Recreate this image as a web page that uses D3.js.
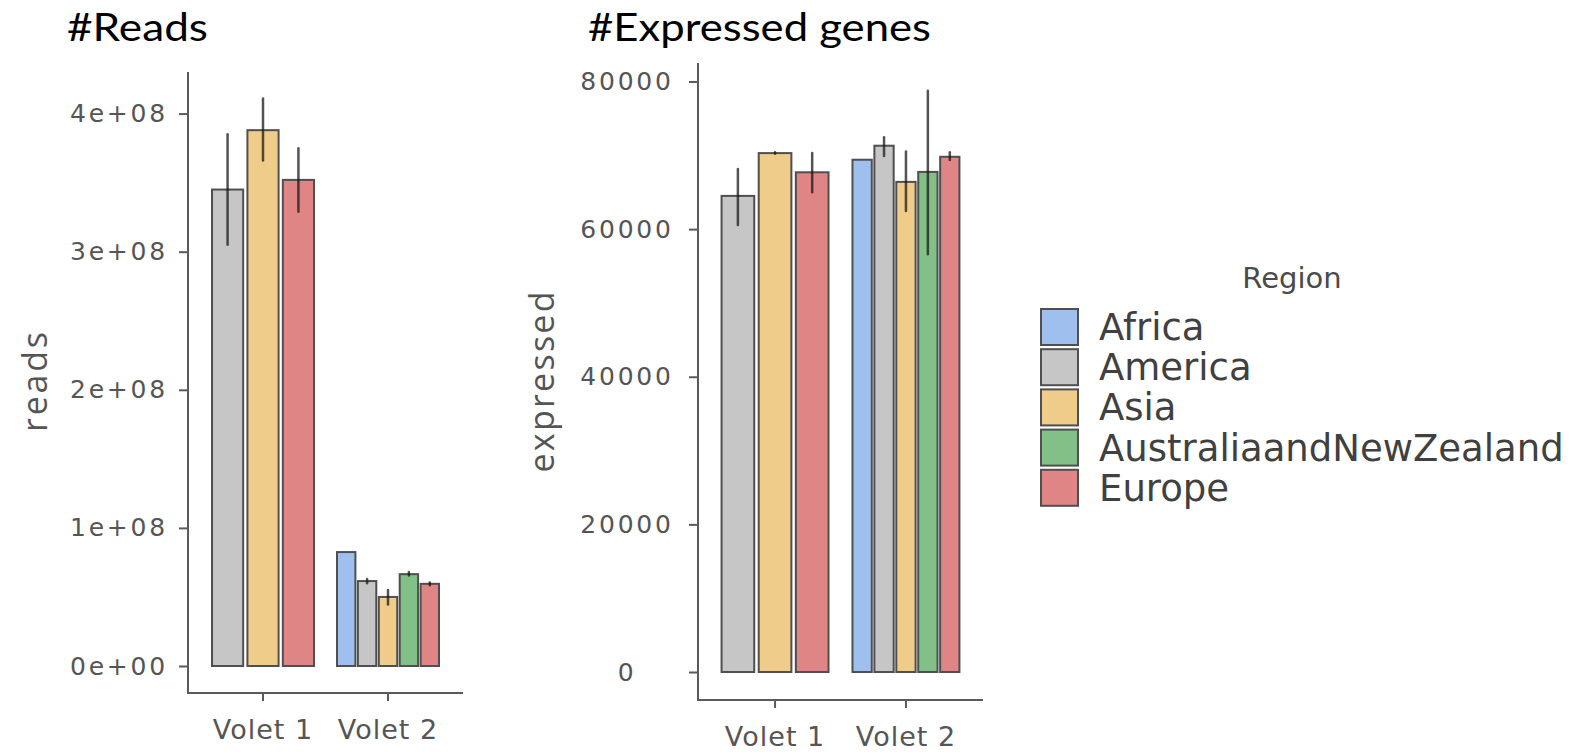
<!DOCTYPE html>
<html>
<head>
<meta charset="utf-8">
<script src="https://cdn.jsdelivr.net/npm/d3@7"></script>
<style>
  body { margin: 0; background: #fff; }
  svg { display: block; }
</style>
</head>
<body>
<div id="chart"></div>
<script>
// categories
const volets = ["Volet 1", "Volet 2"];
const regions = ["Africa", "America", "Asia", "AustraliaandNewZealand", "Europe"];
const regionColors = ["#9fc0ee", "#c6c6c6", "#efcc8a", "#82c087", "#e08585"];

// #Reads panel (mean with error range, null = no error bar)
const readsGroup = ["Volet 1", "Volet 1", "Volet 1", "Volet 2", "Volet 2", "Volet 2", "Volet 2", "Volet 2"];
const readsRegion = ["America", "Asia", "Europe", "Africa", "America", "Asia", "AustraliaandNewZealand", "Europe"];
const readsMean = [345e6, 388e6, 352e6, 82.5e6, 61.5e6, 50e6, 66.5e6, 59.5e6];
const readsLow = [305e6, 366e6, 329e6, null, 60e6, 44.5e6, 65.5e6, 58.5e6];
const readsHigh = [385e6, 411e6, 375e6, null, 63e6, 55e6, 68e6, 60.5e6];
const readsTicks = [0, 1e8, 2e8, 3e8, 4e8];
const readsTickLabels = ["0e+00", "1e+08", "2e+08", "3e+08", "4e+08"];

// #Expressed genes panel
const exprGroup = ["Volet 1", "Volet 1", "Volet 1", "Volet 2", "Volet 2", "Volet 2", "Volet 2", "Volet 2"];
const exprRegion = ["America", "Asia", "Europe", "Africa", "America", "Asia", "AustraliaandNewZealand", "Europe"];
const exprMean = [64500, 70300, 67700, 69400, 71300, 66400, 67750, 69800];
const exprLow = [60550, 70200, 65000, null, 69900, 62450, 56600, 69350];
const exprHigh = [68150, 70400, 70300, null, 72450, 70500, 78750, 70400];
const exprTicks = [0, 20000, 40000, 60000, 80000];
const exprTickLabels = ["0", "20000", "40000", "60000", "80000"];

const width = 1577, height = 752;
const axisColor = "#5a5a5a";
const tickTextColor = "#555";

const svg = d3.select("#chart").append("svg")
    .attr("width", width)
    .attr("height", height);

const color = d3.scaleOrdinal().domain(regions).range(regionColors);

function drawPanel(p) {
    const g = svg.append("g");

    const x = d3.scaleBand()
        .domain(volets)
        .range([p.left, p.right])
        .paddingInner(p.padInner)
        .paddingOuter(p.padOuter);

    const y = d3.scaleLinear()
        .domain([0, p.max])
        .range([p.zeroY, p.maxY]);

    // bars, dodged inside each volet
    volets.forEach(function(v) {
        const idx = d3.range(p.group.length).filter(i => p.group[i] === v);
        const inner = d3.scaleBand()
            .domain(idx.map(i => p.region[i]))
            .range([x(v), x(v) + x.bandwidth()])
            .paddingInner(0.12);

        g.selectAll(null)
            .data(idx)
            .enter().append("rect")
            .attr("x", i => inner(p.region[i]))
            .attr("y", i => y(p.mean[i]))
            .attr("width", inner.bandwidth())
            .attr("height", i => y(0) - y(p.mean[i]))
            .attr("fill", i => color(p.region[i]))
            .attr("stroke", "#4f4f4f")
            .attr("stroke-width", 2);

        g.selectAll(null)
            .data(idx.filter(i => p.low[i] !== null))
            .enter().append("line")
            .attr("x1", i => inner(p.region[i]) + inner.bandwidth() / 2)
            .attr("x2", i => inner(p.region[i]) + inner.bandwidth() / 2)
            .attr("y1", i => y(p.low[i]))
            .attr("y2", i => y(p.high[i]))
            .attr("stroke", "#1a1a1a")
            .attr("stroke-opacity", 0.75)
            .attr("stroke-width", 2.5)
            .attr("stroke-linecap", "round");
    });

    // y axis
    const yAxis = g.append("g")
        .attr("transform", `translate(${p.left},0)`)
        .call(d3.axisLeft(y)
            .tickValues(p.ticks)
            .tickFormat((d, i) => p.tickLabels[i])
            .tickSize(9)
            .tickSizeOuter(0));
    yAxis.select(".domain").remove();
    yAxis.selectAll(".tick line").attr("stroke", axisColor).attr("stroke-width", 2);
    yAxis.selectAll(".tick text")
        .attr("x", p.labelCenter - p.left)
        .attr("text-anchor", "middle")
        .attr("font-family", "DejaVu Sans")
        .attr("font-size", 25)
        .attr("letter-spacing", 2.8)
        .attr("fill", tickTextColor);

    // x axis
    const xAxis = g.append("g")
        .attr("transform", `translate(0,${p.bottom})`)
        .call(d3.axisBottom(x).tickSize(8).tickSizeOuter(0));
    xAxis.select(".domain").remove();
    xAxis.selectAll(".tick line").attr("stroke", axisColor).attr("stroke-width", 2);
    xAxis.selectAll(".tick text")
        .attr("y", 46)
        .attr("dy", 0)
        .attr("font-family", "DejaVu Sans")
        .attr("font-size", 27)
        .attr("letter-spacing", 1)
        .attr("fill", tickTextColor);

    // axis lines
    g.append("line")
        .attr("x1", p.left).attr("x2", p.left)
        .attr("y1", p.top).attr("y2", p.bottom + 1)
        .attr("stroke", axisColor).attr("stroke-width", 2);
    g.append("line")
        .attr("x1", p.left - 1).attr("x2", p.right)
        .attr("y1", p.bottom).attr("y2", p.bottom)
        .attr("stroke", axisColor).attr("stroke-width", 2);

    // axis title
    g.append("text")
        .attr("transform", `translate(${p.titleX},${p.titleY}) rotate(-90)`)
        .attr("text-anchor", "middle")
        .attr("font-family", "Open Sans")
        .attr("font-size", 34)
        .attr("textLength", p.titleLen)
        .attr("fill", "#555")
        .text(p.axisTitle);

    // panel heading
    svg.append("text")
        .attr("x", p.headX)
        .attr("y", 41)
        .attr("font-family", "Lato")
        .attr("font-size", 38)
        .attr("textLength", p.headLen)
        .attr("lengthAdjust", "spacingAndGlyphs")
        .attr("fill", "#000")
        .text(p.heading);
}

drawPanel({
    group: readsGroup, region: readsRegion, mean: readsMean, low: readsLow, high: readsHigh,
    ticks: readsTicks, tickLabels: readsTickLabels, max: 4e8,
    left: 188, right: 463, top: 72, bottom: 693, zeroY: 666, maxY: 113.6,
    padInner: 0.184, padOuter: 0.192, labelCenter: 119,
    axisTitle: "reads", titleX: 47, titleY: 382, titleLen: 100,
    heading: "#Reads", headX: 67, headLen: 141
});

drawPanel({
    group: exprGroup, region: exprRegion, mean: exprMean, low: exprLow, high: exprHigh,
    ticks: exprTicks, tickLabels: exprTickLabels, max: 80000,
    left: 698, right: 983, top: 63, bottom: 700, zeroY: 672, maxY: 81.5,
    padInner: 0.183, padOuter: 0.18, labelCenter: 627,
    axisTitle: "expressed", titleX: 554, titleY: 382, titleLen: 181,
    heading: "#Expressed genes", headX: 588, headLen: 343
});

// legend
const legend = svg.append("g");
legend.append("text")
    .attr("x", 1292)
    .attr("y", 288)
    .attr("text-anchor", "middle")
    .attr("font-family", "DejaVu Sans")
    .attr("font-size", 29)
    .attr("fill", "#4a4a4a")
    .text("Region");

const items = legend.selectAll("g.item")
    .data(regions)
    .enter().append("g")
    .attr("class", "item")
    .attr("transform", (d, i) => `translate(1041,${309 + i * 40.2})`);

items.append("rect")
    .attr("width", 37)
    .attr("height", 36)
    .attr("fill", d => color(d))
    .attr("stroke", "#4f4f4f")
    .attr("stroke-width", 2);

items.append("text")
    .attr("x", 58)
    .attr("y", 31)
    .attr("font-family", "DejaVu Sans")
    .attr("font-size", 37)
    .attr("fill", "#404040")
    .text(d => d);
</script>
</body>
</html>
